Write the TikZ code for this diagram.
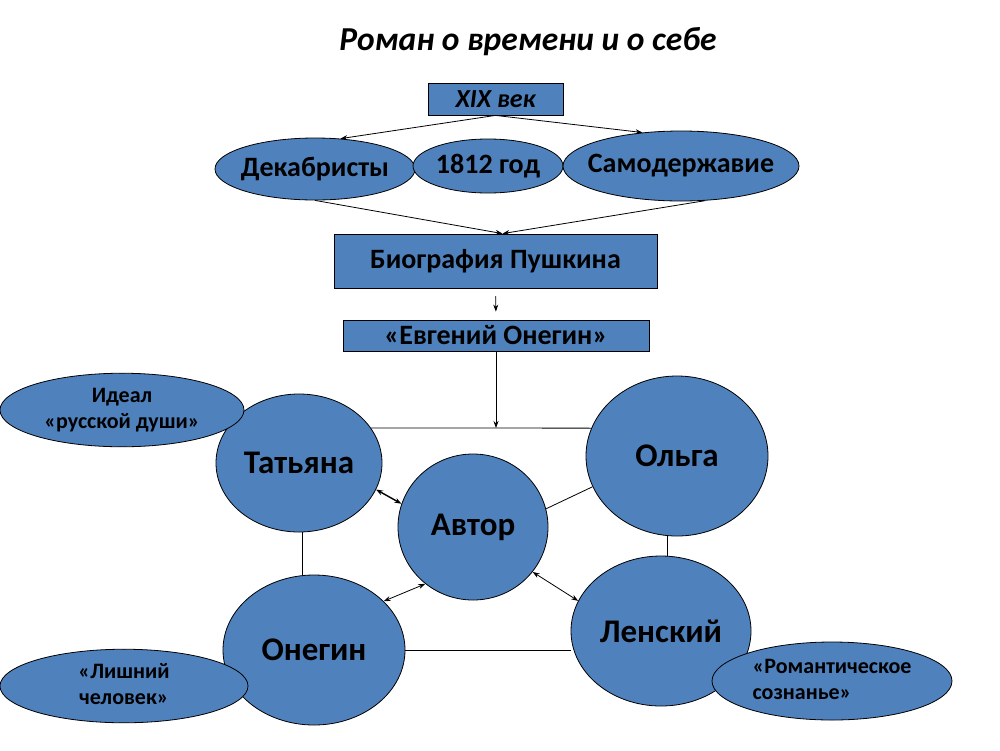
\documentclass[tikz,border=0pt]{standalone}
\usepackage{fontspec}
\setmainfont{Carlito}
\usetikzlibrary{shapes.geometric,arrows.meta}
\definecolor{ovblue}{RGB}{79,129,189}
\newcommand{\zb}[1]{\makebox[0pt]{#1}}

\begin{document}
\begin{tikzpicture}[x=1pt,y=-1pt,
			box/.style={rectangle,draw=black,fill=ovblue,line width=0.8pt,inner sep=0pt},
			ov/.style={ellipse,draw=black,fill=ovblue,line width=0.8pt,inner sep=0pt},
			ar/.style={-{Stealth[length=7pt,width=5pt]},line width=0.8pt},
			dar/.style={{Stealth[length=7pt,width=5pt]}-{Stealth[length=7pt,width=5pt]},line width=0.8pt},
			ln/.style={line width=0.8pt},
			persf/.style={font=\fontsize{33}{36}\selectfont\bfseries},
			midf/.style={font=\fontsize{28}{30}\selectfont\bfseries},
			sidef/.style={font=\fontsize{22}{26}\selectfont\bfseries}]
			\useasboundingbox (0,0) rectangle (1000,750);
			% title
			\node[font=\fontsize{33.5}{36}\selectfont\bfseries\itshape] (title) at (528,42) {Роман о времени и о себе};
			% top part
			\node[box,minimum width=135pt,minimum height=32pt,font=\fontsize{26}{28}\selectfont\bfseries\itshape] (xix) at (495.5,99) {XIX век};
			\node[ov,midf,minimum width=200pt,minimum height=62pt] (dek) at (315,169) {\zb{Декабристы}};
			\node[ov,midf,minimum width=150pt,minimum height=54pt] (god) at (488,166) {\zb{1812 год}};
			\node[ov,midf,minimum width=236pt,minimum height=70pt] (samo) at (681,166) {\zb{Самодержавие}};
			\node[box,midf,minimum width=323pt,minimum height=54pt] (bio) at (495.5,261) {Биография Пушкина};
			\node[box,midf,minimum width=306pt,minimum height=31pt] (eo) at (496,335.5) {«Евгений Онегин»};
			\draw[ar] (xix.south) -- (dek.50);
			\draw[ar] (xix.south) -- (samo.139);
			\draw[ar] (dek.south) -- ([xshift=7pt]bio.north);
			\draw[ar] (samo.-55) -- ([xshift=7pt]bio.north);
			\draw[ar,shorten <=8pt,shorten >=8pt] (bio.south) -- (eo.north);
			% characters
			\node[ov,persf,minimum width=166pt,minimum height=138pt] (tat) at (299,463) {\zb{Татьяна}};
			\node[ov,persf,minimum width=150pt,minimum height=146pt] (avt) at (473,527) {\zb{Автор}};
			\node[ov,persf,minimum width=182pt,minimum height=160pt] (ol) at (677,456) {\zb{Ольга}};
			\node[ov,persf,minimum width=182pt,minimum height=150pt] (one) at (314,650) {\zb{Онегин}};
			\node[ov,persf,minimum width=180pt,minimum height=150pt] (len) at (661,631) {\zb{Ленский}};
			\node[ov,sidef,minimum width=244pt,minimum height=72pt] (ideal) at (122,410) {\zb{\begin{tabular}{@{}c@{}}Идеал\\«русской души»\end{tabular}}};
			\node[ov,sidef,minimum width=248pt,minimum height=70pt] (lish) at (124,686) {\zb{\begin{tabular}{@{}c@{}}«Лишний\\человек»\end{tabular}}};
			\node[ov,sidef,minimum width=240pt,minimum height=78pt] (rom) at (832,681) {\zb{\begin{tabular}{@{}l@{}}«Романтическое\\сознанье»\end{tabular}}};
			% connectors
			\coordinate (junc) at (500,428);
			\draw[ln] (tat.26) -- (ol.162);
			\draw[ar] (eo.south) -- (eo.south |- junc);
			\draw[ln] (tat.-87) -- (tat.-87 |- one.north);
			\draw[ln] (ol.-97) -- (ol.-97 |- len.north);
			\draw[ln] (one.east) -- (one.east -| len.west);
			\draw[ln] (avt.14) -- (ol.200);
			\draw[dar,line width=1.4pt] (tat.-19) -- (avt.162);
			\draw[dar] (avt.230) -- (one.35);
			\draw[dar] (avt.-37) -- (len.160);
		\end{tikzpicture}
\end{document}
